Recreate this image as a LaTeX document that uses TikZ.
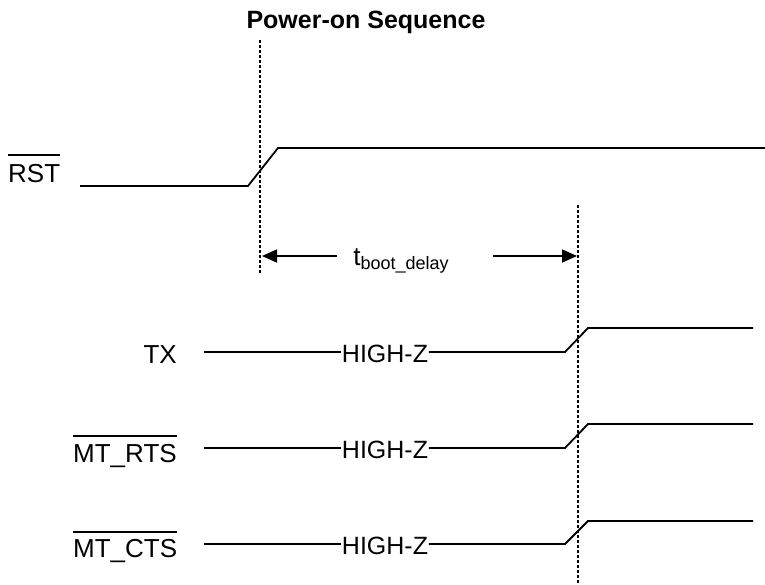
\documentclass[tikz,border=0pt]{standalone}
\usepackage{fontspec}
\setmainfont{Liberation Sans}
\usetikzlibrary{arrows.meta}
\begin{document}
\begin{tikzpicture}[x=1pt,y=-1pt,
  wave/.style={line width=1.8pt, line join=miter},
  guide/.style={line width=1.5pt, dash pattern=on 3pt off 2pt},
  ovl/.style={line width=1.5pt},
  lbl/.style={inner sep=0pt, font=\fontsize{26}{30}\selectfont},
  hz/.style={inner sep=0.5pt, anchor=base, font=\fontsize{25}{30}\selectfont, fill=white},
  dim/.style={line width=1.8pt, -{Triangle[length=15pt,width=13pt]}}]
\useasboundingbox (0,0) rectangle (765,584);

% title
\node[anchor=base, inner sep=0pt, font=\bfseries\fontsize{25}{30}\selectfont] (title) at (366,28) {Power-on Sequence};

% guides
\coordinate (g1t) at (260,40);
\coordinate (g1b) at (260,273);
\coordinate (g2t) at (578,205);
\coordinate (g2b) at (578,584);
\draw[guide] (g1t) -- (g1b);
\draw[guide] (g2t) -- (g2b);

% RST
\node[lbl, anchor=base west] (rst) at (8,182) {RST};
\draw[ovl] ([yshift=27pt]rst.base west) -- ([yshift=27pt]rst.base east);
\coordinate (r0) at (80,186);
\coordinate (r1) at (248,186);
\coordinate (r2) at (278,148);
\coordinate (r3) at (765,148);
\draw[wave] (r0) -- (r1) -- (r2) -- (r3);

% t_boot_delay
\node[inner sep=0pt, anchor=base, font=\fontsize{26}{30}\selectfont] (tb) at (401,265)
  {t\raisebox{-4pt}{\fontsize{18}{20}\selectfont boot\_delay}};
\coordinate (al0) at (337,256);
\coordinate (al1) at (262,256);
\coordinate (ar0) at (493,256);
\coordinate (ar1) at (577,256);
\draw[dim] (al0) -- (al1);
\draw[dim] (ar0) -- (ar1);

% TX
\node[lbl, anchor=base east] (tx) at (177,363) {TX};
\node[hz] (hz1) at (385,362) {HIGH-Z};
\coordinate (t0) at (204,352);
\coordinate (t1) at (565,352);
\coordinate (t2) at (588,328);
\coordinate (t3) at (753,328);
\draw[wave] (t0) -- (hz1.west |- t0);
\draw[wave] (hz1.east |- t0) -- (t1) -- (t2) -- (t3);

% MT_RTS
\node[lbl, anchor=base west] (rts) at (73,462) {MT\_RTS};
\draw[ovl] ([yshift=26pt]rts.base west) -- ([yshift=26pt]rts.base east);
\node[hz] (hz2) at (385,458) {HIGH-Z};
\coordinate (s0) at (204,448);
\coordinate (s1) at (565,448);
\coordinate (s2) at (588,424);
\coordinate (s3) at (753,424);
\draw[wave] (s0) -- (hz2.west |- s0);
\draw[wave] (hz2.east |- s0) -- (s1) -- (s2) -- (s3);

% MT_CTS
\node[lbl, anchor=base west] (cts) at (73,557) {MT\_CTS};
\draw[ovl] ([yshift=25pt]cts.base west) -- ([yshift=25pt]cts.base east);
\node[hz] (hz3) at (385,554) {HIGH-Z};
\coordinate (c0) at (204,544);
\coordinate (c1) at (565,544);
\coordinate (c2) at (588,521);
\coordinate (c3) at (753,521);
\draw[wave] (c0) -- (hz3.west |- c0);
\draw[wave] (hz3.east |- c0) -- (c1) -- (c2) -- (c3);
\end{tikzpicture}
\end{document}
